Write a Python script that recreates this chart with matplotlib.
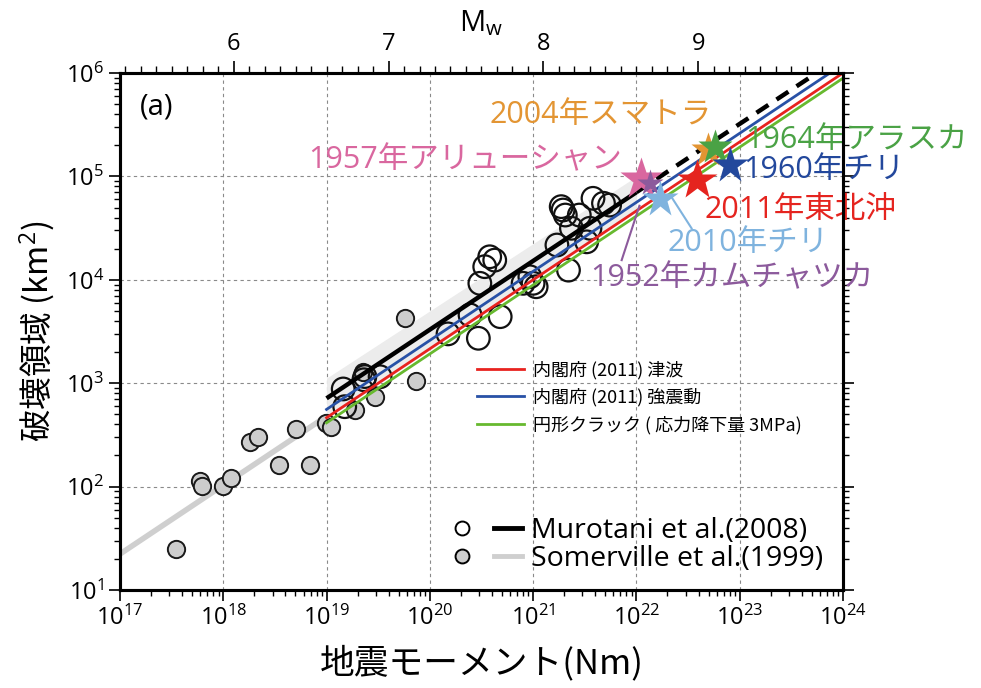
import numpy as np
import matplotlib
matplotlib.use('Agg')
import matplotlib.pyplot as plt
from matplotlib.lines import Line2D
from matplotlib.legend_handler import HandlerTuple
from matplotlib.ticker import FixedLocator, FixedFormatter, NullFormatter, LogLocator

plt.rcParams['font.family'] = ['Open Sans', 'Noto Sans CJK JP', 'DejaVu Sans']
plt.rcParams['mathtext.fontset'] = 'custom'
plt.rcParams['mathtext.rm'] = 'Open Sans'
plt.rcParams['mathtext.it'] = 'Open Sans'
plt.rcParams['mathtext.bf'] = 'Open Sans'

# ---------------- data ----------------
# Somerville et al. (1999) events (seismic moment Nm, rupture area km2)
somerville_m0 = [3.5e17, 6.0e17, 6.2e17, 1.0e18, 1.19e18, 1.8e18, 2.15e18, 3.5e18,
                 5.1e18, 6.9e18, 9.8e18, 1.1e19, 1.88e19, 2.95e19, 7.4e19, 5.8e19, 2.25e19]
somerville_area = [25, 114, 101, 101, 122, 268, 304, 162,
                   363, 162, 409, 380, 550, 740, 1050, 4250, 1290]

# Murotani et al. (2008) events
murotani_m0 = [1.45e19, 2.3e19, 2.35e19, 3.3e19, 1.5e19, 1.5e20, 2.45e20, 2.95e20,
               4.8e20, 3.05e20, 3.4e20, 3.8e20, 4.25e20, 8.0e20, 1.0e21, 1.07e21,
               9.3e20, 1.7e21, 2.2e21, 1.95e21, 2.05e21, 2.8e21, 2.35e21, 3.55e21,
               3.8e21, 4.8e21, 5.5e21, 3.3e21, 1.87e21]
murotani_area = [880, 1080, 1160, 1155, 593, 3000, 4570, 2720,
                 4400, 9250, 13400, 16700, 15500, 9250, 9250, 8570,
                 10700, 21700, 12400, 47300, 42300, 42300, 31500, 31500,
                 61400, 55000, 52800, 23300, 51000]

# scaling-relation line end points
murotani_line_m0 = [1e19, 1e22]
murotani_line_area = [714, 7.03e4]
murotani_ext_m0 = [1e22, 5.56e23]
murotani_ext_area = [7.03e4, 1e6]
band_m0 = [1e19, 1e22]
band_upper = [1120, 1.0e5]
band_lower = [450, 4.6e4]
somerville_line_m0 = [1e17, 1e19]
somerville_line_area = [22.3, 479]
tsunami_m0 = [1e19, 1e24]
tsunami_area = [464, 1e6]
strong_m0 = [1e19, 7.47e23]
strong_area = [558, 1e6]
crack_m0 = [1e19, 1e24]
crack_area = [414, 8.9e5]

# large earthquakes (stars)
eq_names = ['2004年スマトラ', '1964年アラスカ', '1957年アリューシャン', '1952年カムチャツカ',
            '2010年チリ', '2011年東北沖', '1960年チリ']
eq_m0 = [4.95e22, 5.75e22, 1.12e22, 1.35e22, 1.69e22, 3.83e22, 8.0e22]
eq_area = [1.8e5, 1.94e5, 9.5e4, 8.6e4, 6.1e4, 9.2e4, 1.29e5]
eq_colors = ['#e39533', '#4aa245', '#d9679f', '#8c5a9c', '#7fb3de', '#e5241f', '#23489c']
eq_sizes = [26, 26, 32, 20, 28, 30, 28]
# label anchor positions (left/center)
lab_m0 = [3.82e20, 1.12e23, 6.6e18, 3.55e21, 2.02e22, 4.6e22, 1.07e23]
lab_area = [3.93e5, 2.25e5, 1.44e5, 1.04e4, 2.27e4, 4.73e4, 1.15e5]

mw_ticks = [6, 7, 8, 9]

# ---------------- figure ----------------
fig = plt.figure(figsize=(9.81, 6.88), dpi=100)
ax = fig.add_axes([0.1223, 0.1424, 0.7370, 0.7515])
ax.set_xscale('log')
ax.set_yscale('log')
ax.set_xlim(1e17, 1e24)
ax.set_ylim(10, 1e6)

ax.grid(True, which='major', ls=(0, (3, 3)), color='#8a8a8a', lw=0.8)
ax.set_axisbelow(True)

ax.fill_between(band_m0, band_lower, band_upper, color='#ececec', lw=0, zorder=1)
ax.plot(somerville_line_m0, somerville_line_area, color='#cfcfcf', lw=4, zorder=2,
        solid_capstyle='butt')

ax.scatter(somerville_m0, somerville_area, s=155, facecolor='#cdcdcd',
           edgecolor='#1a1a1a', lw=1.4, zorder=3)
ax.scatter(murotani_m0, murotani_area, s=265, facecolor='none',
           edgecolor='#111111', lw=1.6, zorder=4)

ax.plot(murotani_line_m0, murotani_line_area, color='black', lw=3.2, zorder=5,
        solid_capstyle='butt')
ax.plot(murotani_ext_m0, murotani_ext_area, color='black', lw=3.2, ls=(0, (3.2, 2.2)),
        zorder=5)
ax.plot(strong_m0, strong_area, color='#2851a6', lw=2, zorder=6)
ax.plot(tsunami_m0, tsunami_area, color='#e8231f', lw=2, zorder=6)
ax.plot(crack_m0, crack_area, color='#67b92f', lw=2, zorder=6)

# annotation leader lines
ax.plot([7.2e21, 1.07e22], [1.55e4, 5.2e4], color='#8c5a9c', lw=1.5, zorder=7)
ax.plot([3.42e22, 2.19e22], [3.15e4, 6.3e4], color='#7fb3de', lw=1.5, zorder=7)

for m, a, c, sz in zip(eq_m0, eq_area, eq_colors, eq_sizes):
    ax.plot([m], [a], marker='*', ms=sz, color=c, mec='none', zorder=8,
            clip_on=False)

for name, m, a, c in zip(eq_names, lab_m0, lab_area, eq_colors):
    ax.text(m, a, name, color=c, fontsize=22, ha='left', va='center', zorder=9,
            family=['Open Sans', 'Noto Sans CJK JP'])

ax.text(0.028, 0.935, '(a)', transform=ax.transAxes, fontsize=21, ha='left',
        va='center')

# axes styling
for sp in ax.spines.values():
    sp.set_linewidth(2.2)
ax.tick_params(which='major', direction='out', length=8, width=1.2,
               labelsize=17, right=True, top=False)
ax.tick_params(which='minor', direction='out', length=4, width=1.0, right=True,
               top=False)
ax.xaxis.set_major_locator(LogLocator(base=10, numticks=20))
ax.xaxis.set_minor_locator(LogLocator(base=10, subs=np.arange(2, 10), numticks=20))
ax.set_xlabel('地震モーメント(Nm)', fontsize=25, labelpad=10,
              family=['Noto Sans CJK JP', 'Open Sans'])
ax.set_ylabel('破壊領域 (km$^2$)', fontsize=23.5, labelpad=6,
              family=['Noto Sans CJK JP', 'Open Sans'])

# top Mw axis
ax2 = ax.twiny()
ax2.set_xscale('log')
ax2.set_xlim(ax.get_xlim())
ax2.xaxis.set_major_locator(FixedLocator([10 ** (1.5 * m + 9.1) for m in mw_ticks]))
ax2.xaxis.set_minor_locator(FixedLocator(
    [10 ** (1.5 * m + 9.1) for m in np.arange(5.3, 9.95, 0.1)]))
ax2.xaxis.set_major_formatter(FixedFormatter([str(m) for m in mw_ticks]))
ax2.xaxis.set_minor_formatter(NullFormatter())
ax2.tick_params(which='major', direction='out', length=9, width=1.2, labelsize=17,
                pad=3)
ax2.tick_params(which='minor', direction='out', length=5, width=1.0)
ax2.set_xlabel('M$_{\\mathrm{w}}$', fontsize=21, labelpad=1)
for sp in ax2.spines.values():
    sp.set_linewidth(2.2)

# legends
small_handles = [Line2D([], [], color='#e8231f', lw=2),
                 Line2D([], [], color='#2851a6', lw=2),
                 Line2D([], [], color='#67b92f', lw=2)]
small_labels = ['内閣府 (2011) 津波', '内閣府 (2011) 強震動', '円形クラック ( 応力降下量 3MPa)']
leg1 = ax.legend(small_handles, small_labels, loc='upper left',
                 bbox_to_anchor=(0.472, 0.475), frameon=False,
                 handlelength=2.6, handletextpad=0.5, labelspacing=0.5,
                 prop={'family': ['Noto Sans CJK JP', 'Open Sans'], 'size': 13})
ax.add_artist(leg1)

h_mur = (Line2D([], [], ls='none', marker='o', ms=10, mfc='white', mec='black', mew=1.4),
         Line2D([], [], color='black', lw=3.5))
h_som = (Line2D([], [], ls='none', marker='o', ms=10, mfc='#cdcdcd', mec='black', mew=1.4),
         Line2D([], [], color='#cfcfcf', lw=3.5))
leg2 = ax.legend([h_mur, h_som], ['Murotani et al.(2008)', 'Somerville et al.(1999)'],
                 handler_map={tuple: HandlerTuple(ndivide=None, pad=0.6)},
                 loc='lower left', bbox_to_anchor=(0.43, 0.0), frameon=False,
                 fontsize=20.5, handlelength=2.6, handletextpad=0.3,
                 labelspacing=0.0, borderaxespad=0.2)

fig.savefig('out.png', dpi=100)
